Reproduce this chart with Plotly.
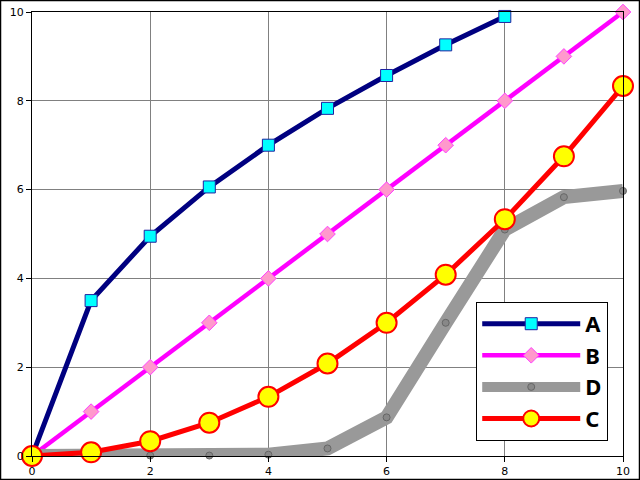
import plotly.graph_objects as go

x_a = [0, 1, 2, 3, 4, 5, 6, 7, 8]
y_a = [0, 3.5, 4.95, 6.06, 7.0, 7.83, 8.57, 9.26, 9.9]
x_b = [0, 1, 2, 3, 4, 5, 6, 7, 8, 9, 10]
y_b = [0, 1, 2, 3, 4, 5, 6, 7, 8, 9, 10]
x_d = [0, 1, 2, 3, 4, 5, 6, 7, 8, 9, 10]
y_d = [0, 0.0, 0.01, 0.01, 0.03, 0.17, 0.87, 3.0, 5.1, 5.83, 5.97]
x_c = [0, 1, 2, 3, 4, 5, 6, 7, 8, 9, 10]
y_c = [0, 0.083, 0.333, 0.75, 1.333, 2.083, 3.0, 4.083, 5.333, 6.75, 8.333]
tick_vals = [0, 2, 4, 6, 8, 10]

fig = go.Figure()
fig.add_trace(go.Scatter(x=x_a, y=y_a, name="A", mode="lines+markers",
                         line=dict(color="#000080", width=5),
                         marker=dict(symbol="square", size=12, color="#00ffff",
                                     line=dict(color="#2020a0", width=1)),
                         cliponaxis=False))
fig.add_trace(go.Scatter(x=x_b, y=y_b, name="B", mode="lines+markers",
                         line=dict(color="#ff00ff", width=4.5),
                         marker=dict(symbol="diamond", size=12, color="#ff99cc",
                                     line=dict(color="#ff40ff", width=1)),
                         cliponaxis=False))
fig.add_trace(go.Scatter(x=x_d, y=y_d, name="D", mode="lines+markers",
                         line=dict(color="#999999", width=14),
                         marker=dict(symbol="circle", size=7, color="#888888",
                                     line=dict(color="#666666", width=1)),
                         cliponaxis=False))
fig.add_trace(go.Scatter(x=x_c, y=y_c, name="C", mode="lines+markers",
                         line=dict(color="#ff0000", width=5),
                         marker=dict(symbol="circle", size=20, color="#ffff00",
                                     line=dict(color="#ff0000", width=2)),
                         cliponaxis=False))

axis_common = dict(range=[0, 10], tickvals=tick_vals, showgrid=True,
                   gridcolor="#808080", gridwidth=1, showline=True,
                   linecolor="black", linewidth=1, mirror=True,
                   ticks="outside", ticklen=5, tickcolor="black",
                   tickfont=dict(family="DejaVu Sans", size=11, color="black"),
                   zeroline=False, automargin=False)

fig.update_layout(
    width=640, height=480,
    margin=dict(l=32, r=17, t=12, b=24),
    paper_bgcolor="white", plot_bgcolor="white",
    xaxis=dict(**axis_common),
    yaxis=dict(**axis_common),
    showlegend=True,
    legend=dict(x=0.975, y=0.034, xanchor="right", yanchor="bottom",
                bgcolor="white", bordercolor="black", borderwidth=1,
                font=dict(family="Noto Sans", size=22, color="black", weight="bold"),
                itemwidth=98),
    shapes=[dict(type="rect", xref="paper", yref="paper",
                 x0=-31.5 / 591, x1=1 + 16.5 / 591,
                 y0=-23.5 / 444, y1=1 + 11.5 / 444,
                 line=dict(color="black", width=1.5), layer="above")],
)

fig.write_html("out.html", config={"displayModeBar": False},
               post_script="document.body.style.margin='0';document.body.style.overflow='hidden';")
